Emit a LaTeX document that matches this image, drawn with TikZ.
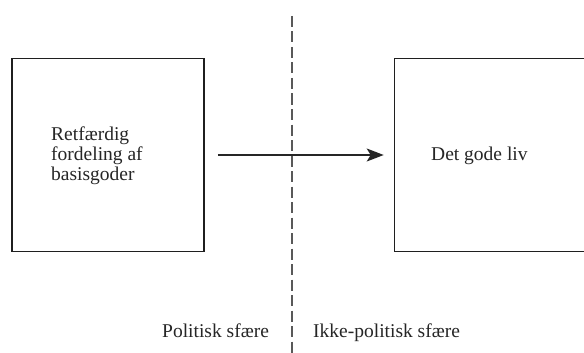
\documentclass[tikz,border=0pt]{standalone}
\usepackage{fontspec}
\setmainfont{Liberation Serif}
\usetikzlibrary{arrows.meta}
\begin{document}
\begin{tikzpicture}[x=1pt,y=-1pt,
  boxstyle/.style={draw=black!88, line width=1.6pt, minimum width=#1, minimum height=193pt, inner sep=0pt},
  txt/.style={font=\fontsize{19.5}{20}\selectfont, inner sep=0pt, text=black!85},
  arr/.style={draw=black!85, line width=1.4pt, -{Stealth[length=17pt,width=13pt,inset=4pt]}},
  divider/.style={draw=black!65, line width=1.3pt, dash pattern=on 11pt off 4.5pt}]
\useasboundingbox (0,0) rectangle (584,353);
\clip (0,0) rectangle (584,353);
\fill[white] (0,0) rectangle (584,353);
\node[boxstyle=192pt] (L) at (108,155) {};
\node[boxstyle=230pt] (R) at (509.5,155) {};
\node[txt, anchor=base west, align=left] (lt) at (51,180) {Retfærdig\\fordeling af\\basisgoder};
\node[txt, anchor=base west] (rt) at (431,160) {Det gode liv};
\coordinate (dtop) at (292,16);
\coordinate (dbot) at (292,360);
\draw[divider] (dtop) -- (dbot);
\draw[arr, shorten <=13pt, shorten >=10pt] (L) -- (R);
\node[txt, anchor=base west] (pol) at (162,337) {Politisk sfære};
\node[txt, anchor=base west] (ikke) at (313,337) {Ikke-politisk sfære};
\end{tikzpicture}
\end{document}
